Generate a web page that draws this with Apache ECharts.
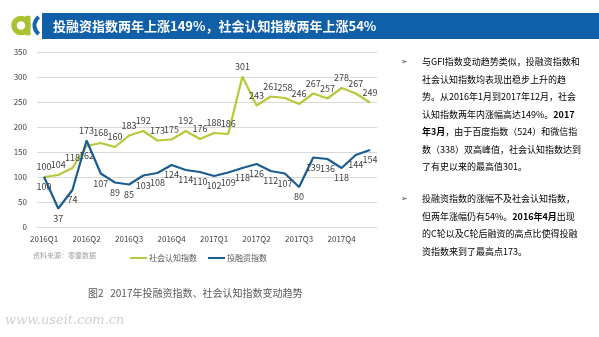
<!DOCTYPE html>
<html>
<head>
<meta charset="utf-8">
<script src="https://cdn.jsdelivr.net/npm/echarts@6/dist/echarts.min.js"></script>
<style>
  html, body { margin: 0; padding: 0; background: #fff; }
  #main { width: 599px; height: 337px; }
</style>
</head>
<body>
<div id="main"></div>
<script>
// Monthly categories, Jan 2016 – Dec 2017
const months = [
  '2016-01','2016-02','2016-03','2016-04','2016-05','2016-06',
  '2016-07','2016-08','2016-09','2016-10','2016-11','2016-12',
  '2017-01','2017-02','2017-03','2017-04','2017-05','2017-06',
  '2017-07','2017-08','2017-09','2017-10','2017-11','2017-12'
];
// Quarter labels shown on every third month
const quarterLabels = ['2016Q1','2016Q2','2016Q3','2016Q4','2017Q1','2017Q2','2017Q3','2017Q4'];

const seriesNames = ['社会认知指数', '投融资指数'];
const socialIndex = [100,104,118,162,168,160,183,192,173,175,192,176,188,186,301,243,261,258,246,267,257,278,267,249];
const financeIndex = [100,37,74,173,107,89,85,103,108,124,114,110,102,109,118,126,112,107,80,139,136,118,144,154];

const yTicks = { min: 0, max: 350, interval: 50 };

const GREEN = '#b8c83a';
const BLUE = '#1c5d8f';
const LABEL = '#404040';

// April 2016: the two lines cross, so their labels swap sides
function withLabels(values, flipIdx, flipPos) {
  return values.map((v, i) => i === flipIdx
    ? { value: v, label: { position: flipPos, offset: flipPos === 'bottom' ? [9, 0] : [0, 0] } }
    : { value: v });
}

const chart = echarts.init(document.getElementById('main'), null, { renderer: 'canvas' });

const bodyFont = '"Noto Sans CJK SC", "Noto Sans", sans-serif';
const txt = (x, y, text, style) => ({
  type: 'text', x, y,
  style: Object.assign({ text, font: '9px ' + bodyFont, fill: '#595959', textVerticalAlign: 'middle' }, style)
});

const para1 = [
  [{ t: '与GFI指数变动趋势类似，投融资指数和' }],
  [{ t: '社会认知指数均表现出稳步上升的趋' }],
  [{ t: '势。从2016年1月到2017年12月，社会' }],
  [{ t: '认知指数两年内涨幅高达149%。' }, { t: '2017', b: 1 }],
  [{ t: '年3月', b: 1 }, { t: '，由于百度指数（524）和微信指' }],
  [{ t: '数（338）双高峰值，社会认知指数达到' }],
  [{ t: '了有史以来的最高值301。' }]
];
const para2 = [
  [{ t: '投融资指数的涨幅不及社会认知指数，' }],
  [{ t: '但两年涨幅仍有54%。' }, { t: '2016年4月', b: 1 }, { t: '出现' }],
  [{ t: '的C轮以及C轮后融资的高点比使得投融' }],
  [{ t: '资指数来到了最高点173。' }]
];
function paragraph(lines, x, y0, step) {
  return lines.map((parts, i) => ({
    type: 'text', x, y: y0 + i * step,
    style: {
      text: parts.map(p => p.b ? '{b|' + p.t + '}' : '{n|' + p.t + '}').join(''),
      textVerticalAlign: 'middle',
      rich: {
        n: { fontSize: 9, fontFamily: bodyFont, color: '#595959' },
        b: { fontSize: 9, fontFamily: bodyFont, color: '#1f6aa8', fontWeight: 'bold' }
      }
    }
  }));
}

const lineSeries = (name, values, color, pos, flipIdx, flipPos, z) => ({
  name, type: 'line',
  data: withLabels(values, flipIdx, flipPos),
  symbol: 'circle', symbolSize: 1, showSymbol: true,
  lineStyle: { color, width: 2.2 }, itemStyle: { color },
  label: { show: true, position: pos, distance: 5, fontSize: 9, color: LABEL },
  labelLayout: { hideOverlap: false },
  z
});

const option = {
  backgroundColor: '#ffffff',
  animation: false,
  textStyle: { fontFamily: bodyFont },
  grid: { left: 37, right: 222, top: 52, bottom: 110, containLabel: false },
  legend: {
    data: seriesNames,
    left: 125, top: 249,
    itemWidth: 17, itemHeight: 2, itemGap: 11,
    icon: 'rect',
    textStyle: { fontSize: 8, color: '#595959', padding: [0, 0, 0, -3] }
  },
  xAxis: {
    type: 'category',
    data: months,
    boundaryGap: true,
    axisLine: { show: true, lineStyle: { color: '#d9d9d9' } },
    axisTick: { show: false },
    axisLabel: {
      interval: 2,
      margin: 8,
      fontSize: 8,
      color: '#404040',
      formatter: (v, i) => quarterLabels[Math.floor(i / 3)]
    }
  },
  yAxis: {
    type: 'value',
    min: yTicks.min, max: yTicks.max, interval: yTicks.interval,
    axisLine: { show: false },
    axisTick: { show: false },
    axisLabel: { fontSize: 8, color: '#404040', margin: 10 },
    splitLine: { lineStyle: { color: '#d9d9d9', width: 1 } }
  },
  series: [
    lineSeries(seriesNames[0], socialIndex, GREEN, 'top', 3, 'bottom', 2),
    lineSeries(seriesNames[1], financeIndex, BLUE, 'bottom', 3, 'top', 3)
  ],
  graphic: [
    // header logo
    { type: 'circle', shape: { cx: 21, cy: 25.5, r: 7 }, style: { fill: 'none', stroke: '#a9c230', lineWidth: 5.5 } },
    { type: 'rect', shape: { x: 25.5, y: 15.8, width: 5, height: 19.5 }, style: { fill: '#a9c230' } },
    { type: 'arc', shape: { cx: 45, cy: 25.5, r: 10.5, startAngle: Math.PI * 0.7, endAngle: Math.PI * 1.3 }, style: { stroke: '#1565b0', lineWidth: 4, fill: 'none' } },
    // header bar
    { type: 'rect', shape: { x: 42, y: 13, width: 557, height: 26 }, style: { fill: '#0f5fa9' } },
    txt(53, 26, '投融资指数两年上涨149%，社会认知指数两年上涨54%', { font: 'bold 13px ' + bodyFont, fill: '#ffffff' }),
    // commentary
    txt(401, 62, '➢', { font: '8px "DejaVu Sans", sans-serif', fill: '#404040' }),
    ...paragraph(para1, 422, 62, 17.5),
    txt(401, 199, '➢', { font: '8px "DejaVu Sans", sans-serif', fill: '#404040' }),
    ...paragraph(para2, 422, 199, 17.4),
    // source note
    txt(33, 255, '资料来源：零壹数据', { font: '7px ' + bodyFont, fill: '#a0a0a0' }),
    // figure caption
    txt(88, 293, '图2   2017年投融资指数、社会认知指数变动趋势', { font: '10px ' + bodyFont, fill: '#595959' }),
    // site mark
    txt(5, 321, 'www.useit.com.cn', { font: 'italic 13px "DejaVu Serif", serif', fill: '#d0d0d0' })
  ]
};

chart.setOption(option);
</script>
</body>
</html>
